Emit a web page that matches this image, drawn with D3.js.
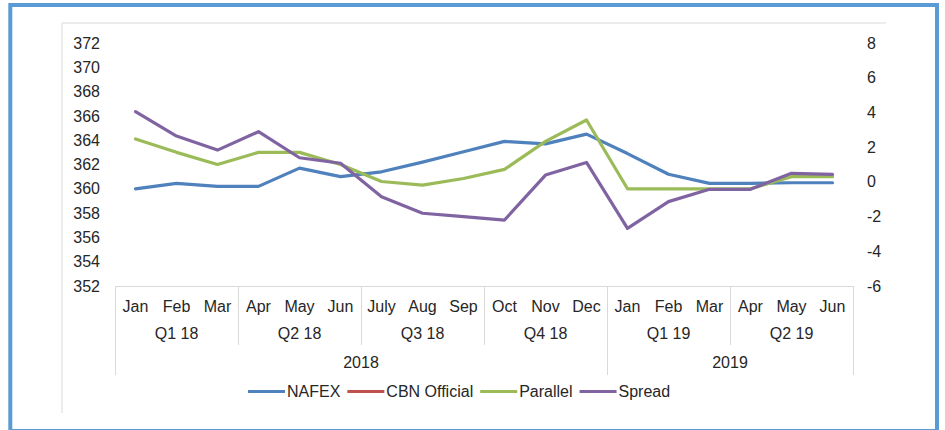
<!DOCTYPE html>
<html>
<head>
<meta charset="utf-8">
<script src="https://cdn.jsdelivr.net/npm/d3@7"></script>
<style>
  html, body { margin: 0; padding: 0; background: #fff; }
  svg { display: block; font-family: "Liberation Sans", Arial, sans-serif; }
</style>
</head>
<body>
<svg id="chart" width="945" height="430"></svg>
<script>
// ---- data ----
const months = ["Jan","Feb","Mar","Apr","May","Jun","July","Aug","Sep","Oct","Nov","Dec","Jan","Feb","Mar","Apr","May","Jun"];
const quarters = ["Q1 18","Q2 18","Q3 18","Q4 18","Q1 19","Q2 19"];
const years = ["2018","2019"];
const monthsPerYear = [12, 6];
const nafex = [360.0, 360.45, 360.2, 360.2, 361.7, 361.0, 361.4, 362.2, 363.05, 363.9, 363.7, 364.5, 362.9, 361.2, 360.45, 360.45, 360.5, 360.5];
const cbnOfficial = [305.75, 305.8, 305.85, 305.8, 305.8, 305.8, 305.9, 306.0, 306.3, 306.5, 306.5, 306.8, 306.8, 306.85, 306.9, 306.9, 306.95, 306.95];
const parallel = [364.1, 363.0, 362.0, 363.0, 363.0, 362.0, 360.6, 360.3, 360.85, 361.6, 363.9, 365.66, 360.0, 360.0, 360.0, 360.0, 361.0, 361.0];
const spread = [4.04, 2.64, 1.83, 2.89, 1.39, 1.07, -0.86, -1.81, -2.0, -2.2, 0.39, 1.12, -2.68, -1.14, -0.43, -0.43, 0.49, 0.43];
const leftTicks = [352,354,356,358,360,362,364,366,368,370,372];
const rightTicks = [-6,-4,-2,0,2,4,6,8];
const seriesNames = ["NAFEX","CBN Official","Parallel","Spread"];
const seriesColors = ["#4f81bd","#c0504d","#9bbb59","#8064a2"];

// ---- layout ----
const svg = d3.select("#chart");
const plotL = 115, plotR = 853, plotT = 43, plotB = 286;
const fontSize = 16, textColor = "#262626", axisColor = "#d9d9d9";

// outer blue frame
svg.append("rect").attr("x", 10.3).attr("y", 5).attr("width", 926.7).attr("height", 426)
  .attr("fill", "none").attr("stroke", "#5b9bd5").attr("stroke-width", 4);
// chart area frame (left + top)
svg.append("path").attr("d", "M62,413V23H886").attr("fill", "none").attr("stroke", axisColor).attr("stroke-width", 1);

const x = d3.scaleBand().domain(d3.range(months.length)).range([plotL, plotR]).padding(0);
const yL = d3.scaleLinear().domain([352, 372]).range([plotB, plotT]);
const yR = d3.scaleLinear().domain([-6, 8]).range([plotB, plotT]);

// left axis labels
const la = d3.axisLeft(yL).tickValues(leftTicks).tickFormat(d => String(d)).tickSize(0).tickPadding(0);
const gL = svg.append("g").attr("transform", "translate(100,0)").call(la);
gL.select(".domain").remove();
gL.selectAll("text").attr("font-size", fontSize).attr("fill", textColor).attr("font-family", "Liberation Sans, Arial, sans-serif");

// right axis labels
const ra = d3.axisRight(yR).tickValues(rightTicks).tickFormat(d => String(d)).tickSize(0).tickPadding(0);
const gR = svg.append("g").attr("transform", "translate(867,0)").call(ra);
gR.select(".domain").remove();
gR.selectAll("text").attr("font-size", fontSize).attr("fill", textColor).attr("font-family", "Liberation Sans, Arial, sans-serif");

// category axis
const ax = svg.append("g").attr("class", "cataxis");
ax.append("line").attr("x1", plotL).attr("x2", plotR).attr("y1", plotB + 0.5).attr("y2", plotB + 0.5)
  .attr("stroke", axisColor);
// month labels
ax.selectAll("text.m").data(months).join("text").attr("class", "m")
  .attr("x", (d, i) => x(i) + x.bandwidth() / 2).attr("y", 306).attr("dy", "0.35em")
  .attr("text-anchor", "middle").attr("font-size", fontSize).attr("fill", textColor).text(d => d);
// quarter labels & dividers
ax.selectAll("text.q").data(quarters).join("text").attr("class", "q")
  .attr("x", (d, i) => (x(i * 3) + x(i * 3 + 2) + x.bandwidth()) / 2).attr("y", 333).attr("dy", "0.35em")
  .attr("text-anchor", "middle").attr("font-size", fontSize).attr("fill", textColor).text(d => d);
const qBounds = d3.range(quarters.length + 1).map(i => i * 3);
ax.selectAll("line.qd").data(qBounds).join("line").attr("class", "qd")
  .attr("x1", d => Math.round(d < months.length ? x(d) : plotR) + 0.5)
  .attr("x2", d => Math.round(d < months.length ? x(d) : plotR) + 0.5)
  .attr("y1", plotB).attr("y2", 345).attr("stroke", axisColor);
// year labels & dividers
let acc = 0;
const yearInfo = years.map((yv, i) => { const s = acc; acc += monthsPerYear[i]; return {label: yv, start: s, end: acc}; });
ax.selectAll("text.y").data(yearInfo).join("text").attr("class", "y")
  .attr("x", d => (x(d.start) + (d.end < months.length ? x(d.end) : plotR)) / 2).attr("y", 362).attr("dy", "0.35em")
  .attr("text-anchor", "middle").attr("font-size", fontSize).attr("fill", textColor).text(d => d.label);
const yBounds = [0].concat(yearInfo.map(d => d.end));
ax.selectAll("line.yd").data(yBounds).join("line").attr("class", "yd")
  .attr("x1", d => Math.round(d < months.length ? x(d) : plotR) + 0.5)
  .attr("x2", d => Math.round(d < months.length ? x(d) : plotR) + 0.5)
  .attr("y1", plotB).attr("y2", 375).attr("stroke", axisColor);

// clip for lines
svg.append("clipPath").attr("id", "plotclip").append("rect")
  .attr("x", plotL).attr("y", 23).attr("width", plotR - plotL).attr("height", plotB - 23);

const cx = i => x(i) + x.bandwidth() / 2;
const lineL = d3.line().x((d, i) => cx(i)).y(d => yL(d));
const lineR = d3.line().x((d, i) => cx(i)).y(d => yR(d));
const lines = svg.append("g").attr("clip-path", "url(#plotclip)");
const seriesData = [
  {vals: nafex, gen: lineL},
  {vals: cbnOfficial, gen: lineL},
  {vals: parallel, gen: lineL},
  {vals: spread, gen: lineR}
];
// draw order: CBN, NAFEX, Parallel, Spread (Spread on top)
[1, 0, 2, 3].forEach(k => {
  lines.append("path").attr("d", seriesData[k].gen(seriesData[k].vals))
    .attr("fill", "none").attr("stroke", seriesColors[k]).attr("stroke-width", 3.2)
    .attr("stroke-linejoin", "round").attr("stroke-linecap", "round");
});

// legend
const leg = svg.append("g");
const ly = 391.5;
let lx = 248;
seriesNames.forEach((name, k) => {
  leg.append("line").attr("x1", lx).attr("x2", lx + 37).attr("y1", ly).attr("y2", ly)
    .attr("stroke", seriesColors[k]).attr("stroke-width", 3.2);
  const t = leg.append("text").attr("x", lx + 39).attr("y", ly).attr("dy", "0.35em")
    .attr("font-size", fontSize).attr("fill", textColor).text(name);
  lx = lx + 39 + t.node().getComputedTextLength() + 7;
});
</script>
</body>
</html>
